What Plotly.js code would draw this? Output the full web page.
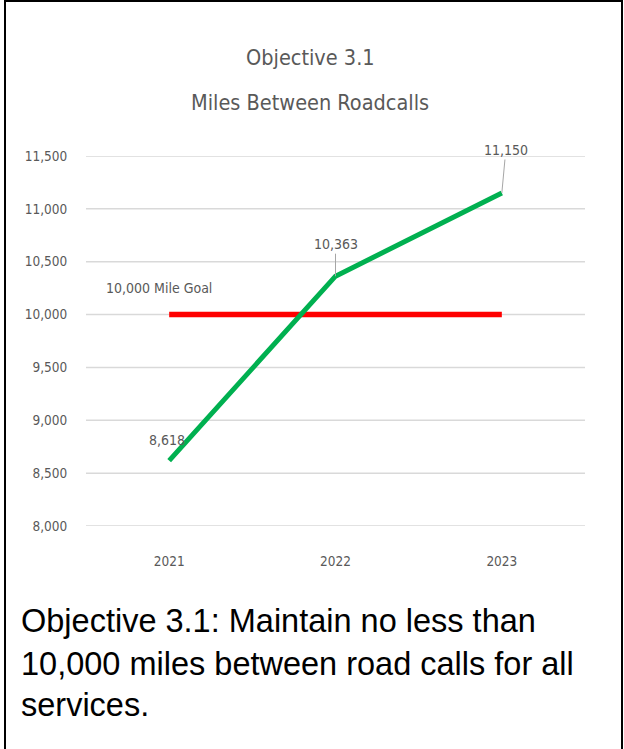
<!DOCTYPE html>
<html>
<head>
<meta charset="utf-8">
<script src="https://cdn.plot.ly/plotly-3.0.1.min.js"></script>
<style>
  html, body { margin: 0; padding: 0; background: #ffffff; }
  #chart { width: 624px; height: 749px; }
</style>
</head>
<body>
<div id="chart"></div>
<script>
// Miles between roadcalls, by year
const years = ['2021', '2022', '2023'];
const milesBetweenRoadcalls = [8618, 10363, 11150];
const goalMiles = [10000, 10000, 10000];
const goalLabel = '10,000 Mile Goal';
const yTickValues = [8000, 8500, 9000, 9500, 10000, 10500, 11000, 11500];

const titleLines = ['Objective 3.1', 'Miles Between Roadcalls'];
const captionLines = [
  'Objective 3.1: Maintain no less than',
  '10,000 miles between road calls for all',
  'services.'
];

const fmt = v => v.toLocaleString('en-US');

// Page geometry (pixels) for the plotting area
const W = 624, H = 749;
const M = { l: 86, r: 39, t: 156, b: 223 };
const plotW = W - M.l - M.r;
const plotH = H - M.t - M.b;
const px = x => (x - M.l) / plotW;          // pixel x -> paper x
const py = y => (H - M.b - y) / plotH;      // pixel y -> paper y

const chartFont = '"Liberation Sans Narrow", "DejaVu Sans Condensed", "Liberation Sans", sans-serif';
const textGrey = '#595959';

const traces = [
  {
    x: years, y: goalMiles, type: 'scatter', mode: 'lines',
    line: { color: '#ff0000', width: 5.5 }, hoverinfo: 'skip', showlegend: false
  },
  {
    x: years, y: milesBetweenRoadcalls, type: 'scatter', mode: 'lines',
    line: { color: '#00b050', width: 5 }, hoverinfo: 'skip', showlegend: false
  }
];

// Value labels on the line (x given as category index)
const labelOffsets = [
  { ax: -2, ay: -21, arrow: false },
  { ax: 0, ay: -32, arrow: true },
  { ax: 4, ay: -43, arrow: true }
];
const annotations = milesBetweenRoadcalls.map((v, i) => ({
  x: i, y: v, xref: 'x', yref: 'y',
  text: fmt(v),
  showarrow: true,
  arrowhead: 0, arrowwidth: 1,
  arrowcolor: labelOffsets[i].arrow ? '#a6a6a6' : 'rgba(0,0,0,0)',
  standoff: 0,
  ax: labelOffsets[i].ax, ay: labelOffsets[i].ay,
  font: { family: chartFont, size: 14, color: textGrey }
}));

annotations.push({
  x: px(159), y: py(288), xref: 'paper', yref: 'paper',
  xanchor: 'center', yanchor: 'middle',
  text: goalLabel, showarrow: false,
  font: { family: chartFont, size: 14, color: textGrey }
});

// Chart title
const titleY = [57, 103];
titleLines.forEach((t, i) => annotations.push({
  x: px(310), y: py(titleY[i]), xref: 'paper', yref: 'paper',
  xanchor: 'center', yanchor: 'middle',
  text: t, showarrow: false,
  font: { family: chartFont, size: 21.5, color: textGrey }
}));

// Caption below the chart
const captionY = [621, 664, 705];
captionLines.forEach((t, i) => annotations.push({
  x: px(19), y: py(captionY[i]), xref: 'paper', yref: 'paper',
  xanchor: 'left', yanchor: 'middle',
  text: t, showarrow: false,
  font: { family: '"Liberation Sans", Arial, sans-serif', size: 32.5, color: '#000000' }
}));

// Horizontal grid lines at every y tick, edges included
const shapes = yTickValues.map(v => ({
  type: 'line', layer: 'below', xref: 'paper', yref: 'y',
  x0: 0, x1: 1, y0: v, y1: v,
  line: { color: '#d9d9d9', width: 1.5 }
}));

// Frame around the panel
const frame = { color: '#000000', width: 2 };
shapes.push(
  { type: 'line', xref: 'paper', yref: 'paper', x0: px(5), x1: px(5), y0: py(0), y1: py(H), line: frame },
  { type: 'line', xref: 'paper', yref: 'paper', x0: px(4), x1: px(622), y0: py(1), y1: py(1), line: frame },
  { type: 'line', xref: 'paper', yref: 'paper', x0: px(622), x1: px(622), y0: py(0), y1: py(H), line: frame }
);

const layout = {
  width: W, height: H,
  margin: M,
  paper_bgcolor: '#ffffff', plot_bgcolor: '#ffffff',
  showlegend: false,
  xaxis: {
    type: 'category', range: [-0.5, 2.5],
    showgrid: false, zeroline: false, showline: false,
    ticks: 'outside', ticklen: 23, tickcolor: 'rgba(0,0,0,0)',
    tickfont: { family: chartFont, size: 13.5, color: textGrey },
    fixedrange: true
  },
  yaxis: {
    range: [8000, 11500],
    tickvals: yTickValues, ticktext: yTickValues.map(fmt),
    showgrid: false, zeroline: false, showline: false,
    ticks: 'outside', ticklen: 15, tickcolor: 'rgba(0,0,0,0)',
    tickfont: { family: chartFont, size: 13.5, color: textGrey },
    fixedrange: true
  },
  annotations: annotations,
  shapes: shapes
};

Plotly.newPlot('chart', traces, layout, { staticPlot: true, displayModeBar: false });
</script>
</body>
</html>
